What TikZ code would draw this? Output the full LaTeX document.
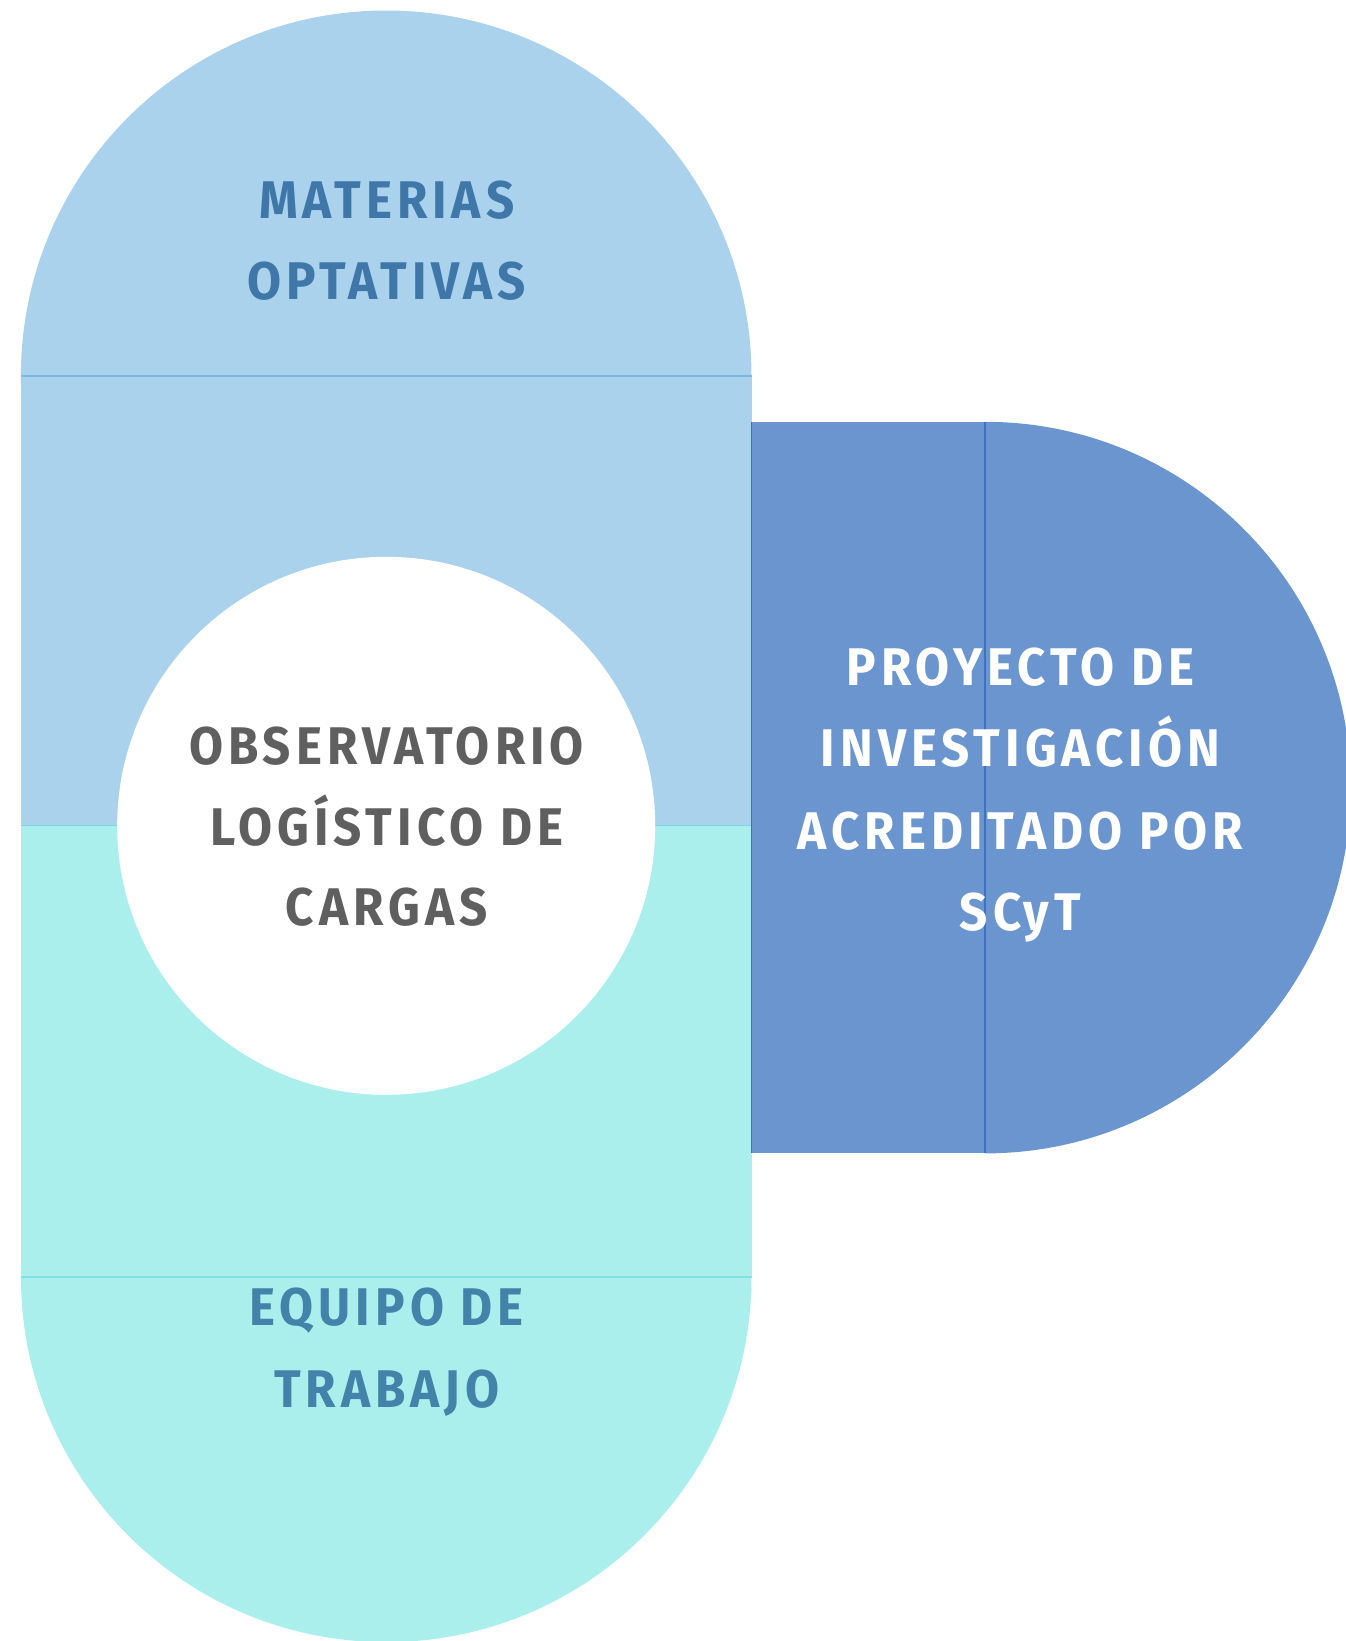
\documentclass[tikz,border=0pt]{standalone}
\usepackage{fontspec}
\setmainfont{Fira Sans}
\newfontfamily\lbl[LetterSpace=9.5,FakeStretch=0.93]{Fira Sans}
\definecolor{lb}{HTML}{ABD2ED}
\definecolor{cy}{HTML}{AAEFEC}
\definecolor{db}{HTML}{6A95CE}
\definecolor{lbline}{HTML}{7DB8E2}
\definecolor{cyline}{HTML}{80E2E8}
\definecolor{dbline}{HTML}{3F72BE}
\definecolor{tblue}{HTML}{3F77A8}
\definecolor{tteal}{HTML}{4382A9}
\definecolor{tgray}{HTML}{5F5F5F}
\tikzset{
  txt/.style={anchor=base,inner sep=0pt,font=\lbl\bfseries\fontsize{53}{60}\selectfont},
}
\begin{document}
\begin{tikzpicture}[x=1pt,y=-1pt]
\useasboundingbox (0,0) rectangle (1346,1641);
% left pill
\fill[lb] (386.2,375.8) circle (365.3);
\fill[lb] (20.9,375.8) rectangle (751.5,825.8);
\fill[cy] (386.2,1276.8) circle (365.3);
\fill[cy] (20.9,825.8) rectangle (751.5,1276.8);
\draw[lbline,line width=1.5] (20.9,375.8) -- (751.5,375.8);
\draw[cyline,line width=1.5] (20.9,1276.8) -- (751.5,1276.8);
\draw[cyline!70!lbline,line width=1] (20.9,825.8) -- (751.5,825.8);
% center circle
\fill[white] (386.2,825.8) circle (269);
% right shape
\fill[db] (751.5,421.8) rectangle (985,1153.4);
\begin{scope}
\clip (985,0) rectangle (1346,1641);
\fill[db] (985,787.6) circle (365.8);
\end{scope}
\draw[dbline,line width=1] (751.5,421.8) -- (751.5,1153.4);
\draw[dbline,line width=1.5] (985,421.8) -- (985,1153.4);
% texts
\node[txt,text=tblue] (m1) at (386.7,218.3) {MATERIAS};
\node[txt,text=tblue] (m2) at (386.7,299.9) {OPTATIVAS};
\node[txt,text=tgray] (o1) at (386.7,764.5) {OBSERVATORIO};
\node[txt,text=tgray] (o2) at (386.7,845.1) {LOGÍSTICO DE};
\node[txt,text=tgray] (o3) at (386.7,925.7) {CARGAS};
\node[txt,text=white] (p1) at (1020.5,685.0) {PROYECTO DE};
\node[txt,text=white] (p2) at (1020.5,766.6) {INVESTIGACIÓN};
\node[txt,text=white] (p3) at (1020.5,849.3) {ACREDITADO POR};
\node[txt,text=white] (p4) at (1020.5,930.9) {SCyT};
\node[txt,text=tteal] (e1) at (386.7,1325.5) {EQUIPO DE};
\node[txt,text=tteal] (e2) at (386.7,1407.2) {TRABAJO};
\end{tikzpicture}
\end{document}
